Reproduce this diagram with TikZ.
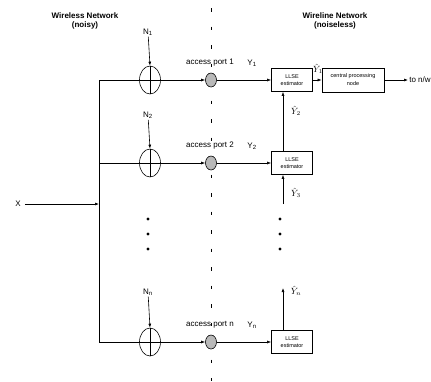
\documentclass[tikz,border=0pt]{standalone}
\usepackage{fontspec}
\setmainfont{Liberation Sans}
\usetikzlibrary{arrows.meta,shapes.geometric}

\tikzset{
	title/.style={font=\bfseries\fontsize{8}{9.5}\selectfont, align=center},
	lbl/.style={font=\fontsize{8}{9}\selectfont, inner sep=1pt},
	hatlbl/.style={font=\fontsize{9}{10}\selectfont, inner sep=0pt},
	sumnode/.style={draw, ellipse, minimum width=21pt, minimum height=28pt, inner sep=0pt},
	portnode/.style={draw, ellipse, fill=gray!55, minimum width=11pt, minimum height=14pt, inner sep=0pt},
	llsebox/.style={draw, line width=0.8pt, minimum width=41pt, minimum height=23pt, inner sep=1pt,
		font=\fontsize{5.5}{7}\selectfont, align=center},
	cpbox/.style={draw, line width=0.8pt, minimum width=62pt, minimum height=24pt, inner sep=1pt,
		font=\fontsize{5.5}{8}\selectfont, align=center},
	boundary/.style={dash pattern=on 3.5pt off 15pt, line width=0.8pt}
}

\begin{document}
\begin{tikzpicture}[x=1pt, y=-1pt, line width=0.6pt, >={Latex[length=4pt,width=3pt]}]
	\useasboundingbox (0,0) rectangle (431,381);
	
	% Titles
	\node[title] (wless) at (85,21) {Wireless Network\\(noisy)};
	\node[title] (wline) at (335,21) {Wireline Network\\(noiseless)};
	
	% Boundary between the two networks
	\draw[boundary] (211,8) -- (211,381);
	
	% Branches
	\foreach \i/\y/\ny in {1/80/32, 2/163/115, n/342/292} {
		\node[sumnode] (s\i) at (150,\y) {};
		\node[lbl] (n\i) at (148,\ny) {N\textsubscript{\i}};
		\node[portnode] (p\i) at (211,\y) {};
		\node[lbl] (a\i) at (210,\y-17) {access port \i};
		\node[llsebox] (l\i) at (292,\y) {LLSE\\estimator};
		\node[lbl] (y\i) at (252,\y-17) {Y\textsubscript{\i}};
		\draw (s\i.north) -- (s\i.south);
		\draw (s\i.west) -- (s\i.east);
		\draw[->] (n\i) -- (s\i.north);
		\draw[->] (s\i.east) -- (p\i.west);
		\draw[->] (p\i.east) -- (l\i.west);
	}
	
	% Input bus
	\coordinate (bt) at (99,80);
	\coordinate (bb) at (99,342);
	\draw (s1.west) -- (bt) -- (bb) -- (sn.west);
	\draw (s2.west) -- (s2.west -| bt);
	\node[lbl] (x) at (18,204) {X};
	\draw[->] ([xshift=3pt]x.east) -- (x -| bt);
	
	% Estimate chain
	\draw[->] ([xshift=-9pt]l2.north) -- ([xshift=-9pt]l1.south);
	\node[hatlbl] (yh2) at (296,111) {$\hat{Y}_2$};
	\coordinate (c3) at (283,204);
	\draw[->] (c3) -- ([xshift=-9pt]l2.south);
	\node[hatlbl] (yh3) at (296,193) {$\hat{Y}_3$};
	\coordinate (cn) at (283,288);
	\draw[->] ([xshift=-9pt]ln.north) -- (cn);
	\node[hatlbl] (yhn) at (296,291) {$\hat{Y}_n$};
	
	% Dots
	\foreach \y in {219,234,249} {
		\fill (148,\y) circle (1.7pt);
		\fill (280,\y) circle (1.7pt);
	}
	
	% Central processing
	\node[cpbox] (cp) at (353,80) {central processing\\node};
	\draw[->] (l1.east) -- (cp.west);
	\node[hatlbl] (yh1) at (318,69) {$\hat{Y}_1$};
	\node[lbl, anchor=west] (out) at (408,80) {to n/w};
	\draw[->] (cp.east) -- (out.west);
\end{tikzpicture}
\end{document}
